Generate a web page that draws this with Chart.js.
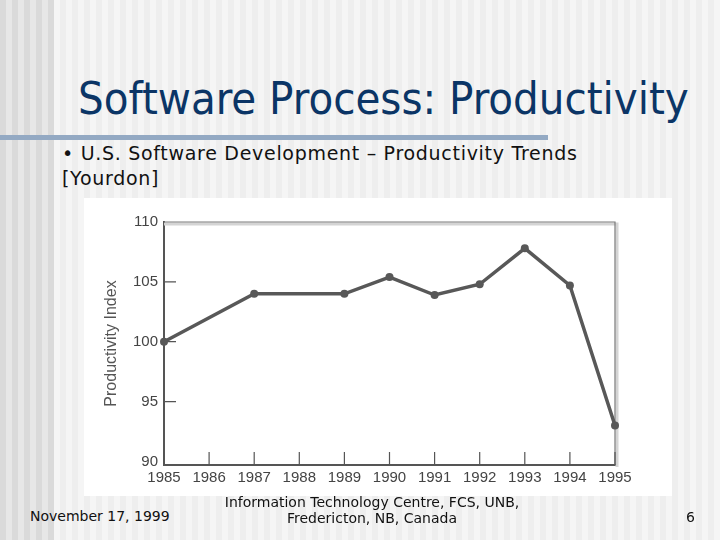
<!DOCTYPE html>
<html>
<head>
<meta charset="utf-8">
<script src="https://cdn.jsdelivr.net/npm/chart.js@4"></script>
<style>
  html, body { margin: 0; padding: 0; }
  body {
    width: 720px; height: 540px; position: relative; overflow: hidden;
    background:
      repeating-linear-gradient(90deg, #dadada 0 6px, #e7e7e7 6px 12px) 0 0 / 54px 100% no-repeat,
      repeating-linear-gradient(90deg, #eeeeee 0 6px, #f5f5f5 6px 12px);
    font-family: "DejaVu Sans", sans-serif;
  }
  .title { position: absolute; left: 78px; top: 72px; font-family: "DejaVu Sans Condensed", "DejaVu Sans", sans-serif;
           font-size: 45px; color: #0b3566; white-space: nowrap; }
  .bar { position: absolute; left: 0; top: 135px; width: 548px; height: 5px; background: #93a9c3; }
  .bullet { position: absolute; left: 62px; top: 141px; font-size: 19px; letter-spacing: 0.7px; line-height: 25px; color: #111; white-space: nowrap; }
  .panel { position: absolute; left: 84px; top: 198px; width: 588px; height: 298px; background: #fff; }
  .foot { position: absolute; font-size: 14px; color: #111; white-space: nowrap; }
</style>
</head>
<body>
<div class="title">Software Process: Productivity</div>
<div class="bar"></div>
<div class="bullet">• U.S. Software Development – Productivity Trends<br>[Yourdon]</div>
<div class="panel"><canvas id="myChart" width="588" height="298"></canvas></div>
<div class="foot" style="left:30px; top:508px;">November 17, 1999</div>
<div class="foot" style="left:222px; top:494px; width:300px; text-align:center; line-height:16px;">Information Technology Centre, FCS, UNB,<br>Fredericton, NB, Canada</div>
<div class="foot" style="left:686px; top:509px;">6</div>

<script>
var years = ["1985", "1986", "1987", "1988", "1989", "1990", "1991", "1992", "1993", "1994", "1995"];
// no points were plotted for 1986 and 1988
var productivity = [100, null, 104, null, 104, 105.4, 103.9, 104.8, 107.8, 104.7, 93];
var yTicks = [90, 95, 100, 105, 110];

// short inward tick marks plus the light top/right frame
var frameTicks = {
    id: 'frameTicks',
    beforeDatasetsDraw: function(chart) {
        var ctx = chart.ctx, a = chart.chartArea;
        var x = chart.scales.x, y = chart.scales.y;
        ctx.save();
        ctx.strokeStyle = '#d4d4d4';
        ctx.lineWidth = 3;
        ctx.beginPath();
        ctx.moveTo(a.left, a.top + 2); ctx.lineTo(a.right + 2, a.top + 2); ctx.lineTo(a.right + 2, a.bottom + 2);
        ctx.stroke();
        ctx.strokeStyle = '#7a7a7a';
        ctx.lineWidth = 1.2;
        ctx.beginPath();
        ctx.moveTo(a.left, a.top); ctx.lineTo(a.right, a.top); ctx.lineTo(a.right, a.bottom);
        ctx.stroke();
        ctx.strokeStyle = '#555';
        ctx.lineWidth = 1.2;
        ctx.beginPath();
        years.forEach(function(yr, i) {
            var px = x.getPixelForValue(i);
            ctx.moveTo(px, a.bottom); ctx.lineTo(px, a.bottom - 13);
        });
        yTicks.forEach(function(v) {
            if (v === 90 || v === 110) return;
            var py = y.getPixelForValue(v);
            ctx.moveTo(a.left, py); ctx.lineTo(a.left + 12, py);
        });
        ctx.stroke();
        ctx.restore();
    }
};

var chart = new Chart(document.getElementById('myChart').getContext('2d'), {
    type: 'line',
    data: {
        labels: years,
        datasets: [{
            data: productivity,
            spanGaps: true,
            borderColor: '#585858',
            backgroundColor: '#585858',
            borderWidth: 3.5,
            pointRadius: 4,
            pointBackgroundColor: '#585858',
            pointBorderWidth: 0,
            tension: 0
        }]
    },
    options: {
        responsive: false,
        animation: false,
        layout: { padding: { left: 0, top: 24, right: 57, bottom: 0 } },
        plugins: { legend: { display: false }, tooltip: { enabled: false } },
        scales: {
            x: {
                type: 'category',
                offset: false,
                grid: { display: false, drawTicks: false },
                border: { display: true, color: '#555', width: 2 },
                ticks: { color: '#444', padding: 4, maxRotation: 0, autoSkip: false,
                         font: { family: 'Liberation Sans, Arial, sans-serif', size: 15 } },
                afterFit: function(s) { s.height = 31; }
            },
            y: {
                min: 89.7,
                max: 110,
                afterBuildTicks: function(s) { s.ticks = yTicks.map(function(v) { return { value: v }; }); },
                grid: { display: false, drawTicks: false },
                border: { display: true, color: '#555', width: 2 },
                ticks: { color: '#444', padding: 6,
                         font: { family: 'Liberation Sans, Arial, sans-serif', size: 15 } },
                title: { display: true, text: 'Productivity Index', color: '#555',
                         padding: { top: 18, bottom: 0 },
                         font: { family: 'Liberation Sans, Arial, sans-serif', size: 16 } },
                afterFit: function(s) { s.width = 80; }
            }
        }
    },
    plugins: [frameTicks]
});
</script>
</body>
</html>
